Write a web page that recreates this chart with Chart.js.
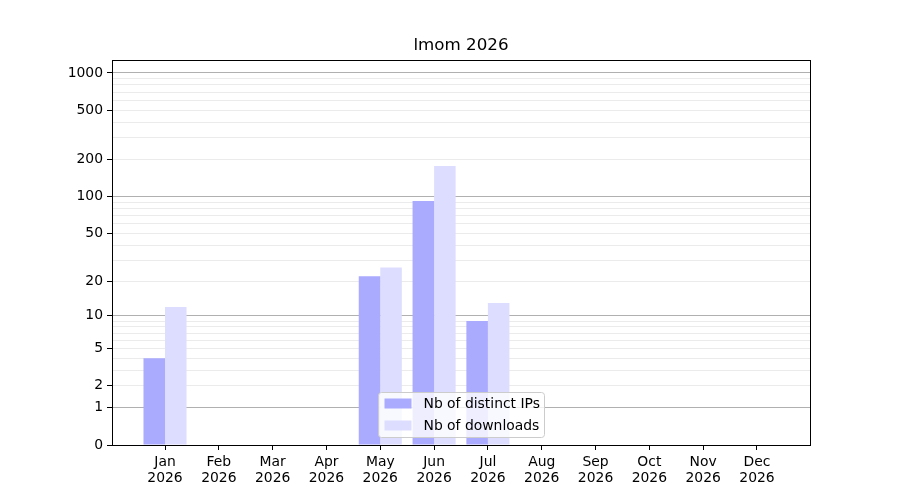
<!DOCTYPE html>
<html>
<head>
<meta charset="utf-8">
<script src="https://cdn.jsdelivr.net/npm/chart.js@4/dist/chart.umd.min.js"></script>
<style>
  body { margin: 0; background: #fff; }
</style>
</head>
<body>
<canvas id="chart" width="900" height="500"></canvas>
<script>
const titleText = "lmom 2026";
const months = ["Jan", "Feb", "Mar", "Apr", "May", "Jun", "Jul", "Aug", "Sep", "Oct", "Nov", "Dec"];
const yearLabel = "2026";
const distinctIps = [4, 0, 0, 0, 22, 92, 9, 0, 0, 0, 0, 0];
const downloads = [12, 0, 0, 0, 26, 177, 13, 0, 0, 0, 0, 0];
const yLabelTicks = [0, 1, 2, 5, 10, 20, 50, 100, 200, 500, 1000];
const yMajorGrid = [1, 10, 100, 1000];
const yMinorGrid = [2, 3, 4, 5, 6, 7, 8, 9, 20, 30, 40, 50, 60, 70, 80, 90, 200, 300, 400, 500, 600, 700, 800, 900];

const FONT = "'DejaVu Sans', sans-serif";
const FS = 13.9;

// y scale that maps v -> log10(v + 1)
class Log1pScale extends Chart.LinearScale {
  determineDataLimits() {
    this.min = this.options.min;
    this.max = this.options.max;
  }
  buildTicks() {
    const vals = [...new Set([0, ...yMajorGrid, ...yMinorGrid])].sort((a, b) => a - b);
    return vals.map((v) => ({ value: v }));
  }
  configure() {
    super.configure();
    this._tStart = Math.log10(this.min + 1);
    this._tRange = Math.log10(this.max + 1) - this._tStart;
  }
  getPixelForValue(value) {
    return this.getPixelForDecimal((Math.log10(value + 1) - this._tStart) / this._tRange);
  }
  getValueForPixel(pixel) {
    return Math.pow(10, this._tStart + this.getDecimalForPixel(pixel) * this._tRange) - 1;
  }
}
Log1pScale.id = "log1p";
Log1pScale.defaults = Chart.LinearScale.defaults;
Chart.register(Log1pScale);

const decorPlugin = {
  id: "decor",
  afterDatasetsDraw(chart) {
    const { ctx, chartArea: a } = chart;
    ctx.save();
    ctx.strokeStyle = "#000";
    ctx.lineWidth = 1;
    ctx.strokeRect(Math.round(a.left) + 0.5, Math.round(a.top) + 0.5,
      Math.round(a.right - a.left), Math.round(a.bottom - a.top));
    ctx.restore();
  },
  afterDraw(chart) {
    const { ctx, chartArea: a } = chart;
    ctx.save();
    // title
    ctx.fillStyle = "#000";
    ctx.font = "16.7px " + FONT;
    ctx.textAlign = "center";
    ctx.textBaseline = "middle";
    ctx.fillText(titleText, (a.left + a.right) / 2, a.top - 14);

    // legend, lower center
    const sets = chart.data.datasets;
    const w = 166, h = 45;
    const x = Math.round((a.left + a.right) / 2 - w / 2) + 0.5;
    const y = Math.round(a.bottom - 8 - h) + 0.5;
    ctx.beginPath();
    ctx.roundRect(x, y, w, h, 3);
    ctx.fillStyle = "rgba(255,255,255,0.8)";
    ctx.fill();
    ctx.strokeStyle = "#cccccc";
    ctx.stroke();
    ctx.font = FS + "px " + FONT;
    ctx.textAlign = "left";
    sets.forEach((ds, i) => {
      const cy = y + 11 + i * 22;
      ctx.fillStyle = ds.backgroundColor;
      ctx.fillRect(x + 6, cy - 5, 27, 10);
      ctx.fillStyle = "#000";
      ctx.fillText(ds.label, x + 45, cy + 1);
    });
    ctx.restore();
  }
};

new Chart(document.getElementById("chart"), {
  type: "bar",
  data: {
    datasets: [
      {
        label: "Nb of distinct IPs",
        data: distinctIps.map((v, i) => ({ x: i, y: v })),
        backgroundColor: "#aaaaff",
      },
      {
        label: "Nb of downloads",
        data: downloads.map((v, i) => ({ x: i, y: v })),
        backgroundColor: "#ddddff",
      },
    ],
  },
  options: {
    responsive: false,
    animation: false,
    devicePixelRatio: 1,
    layout: { padding: { left: 0, right: 90, top: 60, bottom: 0 } },
    datasets: { bar: { categoryPercentage: 0.8, barPercentage: 1.0 } },
    plugins: { legend: { display: false }, tooltip: { enabled: false } },
    scales: {
      x: {
        type: "linear",
        min: -0.985,
        max: 11.985,
        offset: false,
        afterBuildTicks: (scale) => {
          scale.ticks = months.map((m, i) => ({ value: i }));
        },
        afterFit: (scale) => { scale.height = 55; },
        grid: { offset: false, drawOnChartArea: false, tickLength: 5, tickColor: "#000" },
        border: { display: false },
        ticks: {
          autoSkip: false,
          maxRotation: 0,
          padding: 5,
          color: "#000",
          font: { family: FONT, size: FS, lineHeight: 1.1 },
          callback: (value) => [months[value], yearLabel],
        },
      },
      y: {
        type: "log1p",
        min: 0,
        max: 1273,
        afterFit: (scale) => { scale.width = 112; },
        grid: {
          color: (c) => yMajorGrid.includes(c.tick.value) ? "#b0b0b0"
            : (c.tick.value === 0 ? "rgba(0,0,0,0)" : "#ebebeb"),
          tickColor: (c) => yLabelTicks.includes(c.tick.value) ? "#000" : "rgba(0,0,0,0)",
          tickLength: 5,
        },
        border: { display: false },
        ticks: {
          autoSkip: false,
          padding: 4,
          color: "#000",
          font: { family: FONT, size: FS },
          callback: (value) => yLabelTicks.includes(value) ? String(value) : "",
        },
      },
    },
  },
  plugins: [decorPlugin],
});
</script>
</body>
</html>
